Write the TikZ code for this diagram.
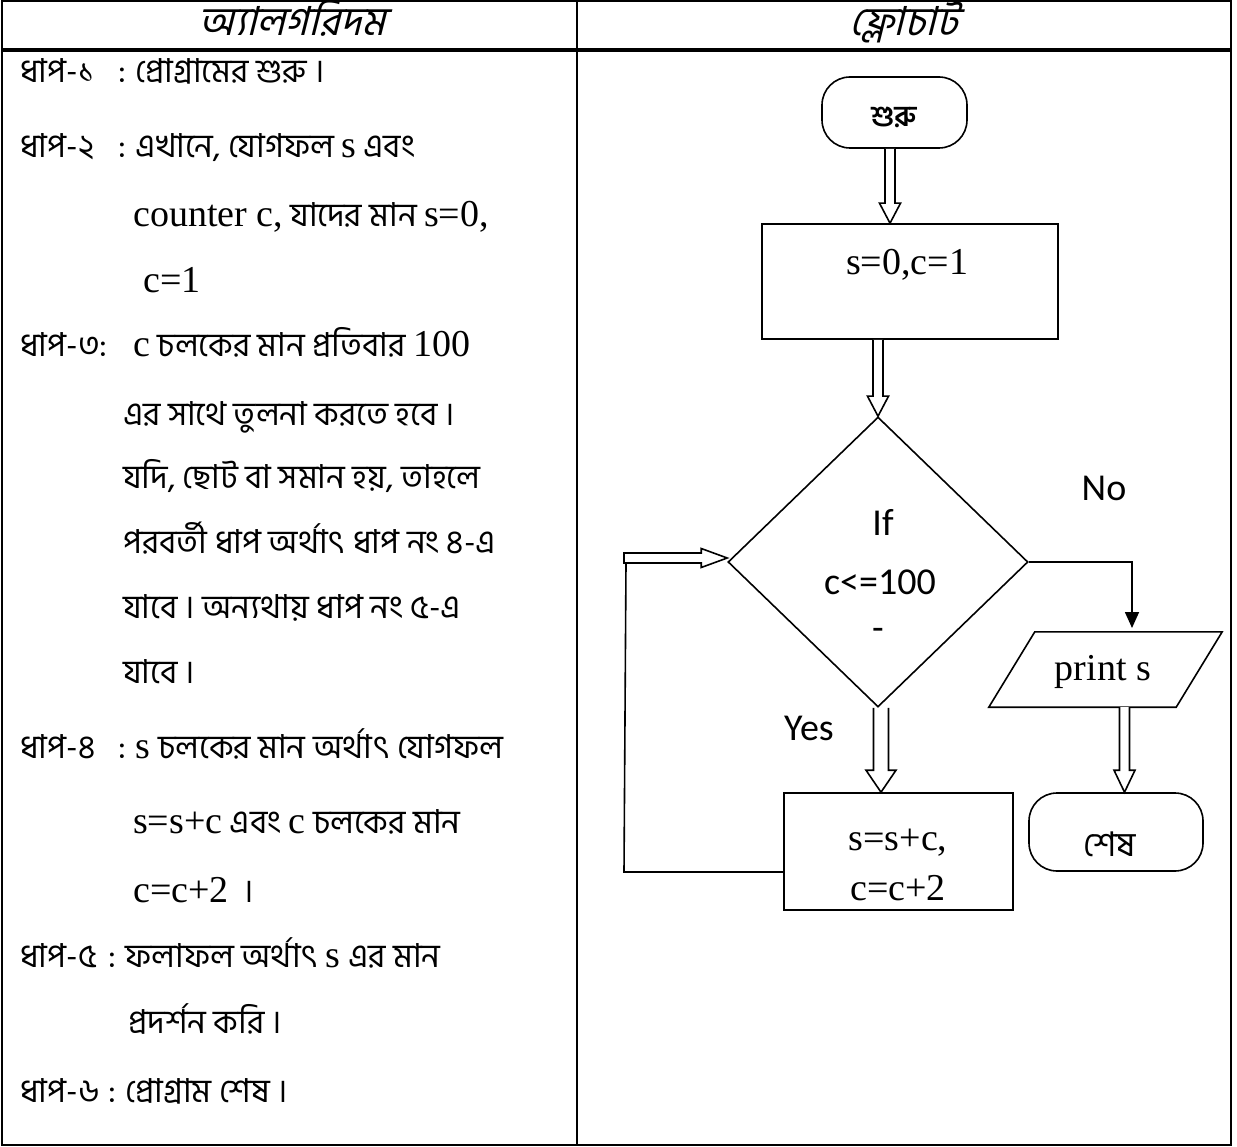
\documentclass[tikz,border=0pt]{standalone}
\usepackage{fontspec}
\setmainfont{Liberation Serif}
\newfontfamily\bn[Script=Bengali]{Hind Siliguri}
\newfontfamily\bnit[Script=Bengali,FakeSlant=0.25]{Hind Siliguri}
\newfontfamily\calf{Carlito}
\usetikzlibrary{shapes.geometric,arrows.meta,calc}
\newcommand\lt[1]{{\rmfamily\fontsize{38}{44}\selectfont #1}}
\newcommand\hollowdown[5]{\draw[flow, fill=white, line join=miter] let \p1=#1, \p2=#2 in
  (\x1-#3,\y1) -- (\x1-#3,\y2+#5) -- (\x1-#4,\y2+#5) -- (\x1,\y2) -- (\x1+#4,\y2+#5) -- (\x1+#3,\y2+#5) -- (\x1+#3,\y1);}
\newcommand\hollowright[5]{\draw[flow, fill=white, line join=miter] let \p1=#1, \p2=#2 in
  (\x1,\y1-#3) -- (\x2-#5,\y1-#3) -- (\x2-#5,\y1-#4) -- (\x2,\y1) -- (\x2-#5,\y1+#4) -- (\x2-#5,\y1+#3) -- (\x1,\y1+#3) -- cycle;}
\tikzset{
  flow/.style={line width=1.6pt},
  bntxt/.style={anchor=base west, inner sep=0pt, font=\bn\fontsize{33}{40}\selectfont},
  hdr/.style={anchor=base, inner sep=0pt, font=\bnit\fontsize{40}{46}\selectfont},
  sans/.style={anchor=base, inner sep=0pt, font=\calf\fontsize{38}{44}\selectfont},
  serif/.style={anchor=base, inner sep=0pt, font=\rmfamily\fontsize{38}{44}\selectfont},
  term/.style={draw, flow, rounded corners=28pt, inner sep=0pt},
  boxn/.style={draw, flow, inner sep=0pt},
}
\begin{document}
\begin{tikzpicture}[x=1pt,y=-1pt]
\useasboundingbox (0,0) rectangle (1237,1147);
% table
\draw[line width=2.2pt] (2,1) rectangle (1231,1145);
\draw[line width=2.2pt] (577,1) -- (577,1145);
\draw[line width=3.5pt] (2,50) -- (1231,50);
\node[hdr] (h1) at (292,36) {অ্যালগরিদম};
\node[hdr] (h2) at (904,36) {ফ্লোচার্ট};
% algorithm text
\node[bntxt] (l1a) at (20,83) {ধাপ-১};
\node[bntxt] (l1b) at (118,83) {: প্রোগ্রামের শুরু ।};
\node[bntxt] (l2a) at (20,158) {ধাপ-২};
\node[bntxt] (l2b) at (118,158) {: এখানে, যোগফল \lt{s} এবং};
\node[bntxt] (l3) at (133,227) {\lt{counter c,} যাদের মান \lt{s=0,}};
\node[bntxt] (l4) at (143,293) {\lt{c=1}};
\node[bntxt] (l5a) at (20,357) {ধাপ-৩:};
\node[bntxt] (l5b) at (133,357) {\lt{c} চলকের মান প্রতিবার \lt{100}};
\node[bntxt] (l6) at (123,425) {এর সাথে তুলনা করতে হবে ।};
\node[bntxt] (l7) at (123,488) {যদি, ছোট বা সমান হয়, তাহলে};
\node[bntxt] (l8) at (123,553) {পরবর্তী ধাপ অর্থাৎ ধাপ নং ৪-এ};
\node[bntxt] (l9) at (123,618) {যাবে । অন্যথায় ধাপ নং ৫-এ};
\node[bntxt] (l10) at (123,683) {যাবে ।};
\node[bntxt] (l11a) at (20,758) {ধাপ-৪};
\node[bntxt] (l11b) at (118,758) {: \lt{s} চলকের মান অর্থাৎ যোগফল};
\node[bntxt] (l12) at (133,833) {\lt{s=s+c} এবং \lt{c} চলকের মান};
\node[bntxt] (l13) at (133,902) {\lt{c=c+2} ~।};
\node[bntxt] (l14a) at (20,967) {ধাপ-৫};
\node[bntxt] (l14b) at (108,967) {: ফলাফল অর্থাৎ \lt{s} এর মান};
\node[bntxt] (l15) at (128,1033) {প্রদর্শন করি ।};
\node[bntxt] (l16a) at (20,1102) {ধাপ-৬};
\node[bntxt] (l16b) at (108,1102) {: প্রোগ্রাম শেষ ।};
% flowchart shapes
\node[term, minimum width=145pt, minimum height=71pt] (st) at (894.5,112.5) {};
\node[anchor=base, inner sep=0pt, font=\bn\bfseries\fontsize{29}{34}\selectfont] (stt) at (894,127) {শুরু};
\node[boxn, minimum width=296pt, minimum height=115pt] (b1) at (910,281.5) {};
\node[serif] (b1t) at (907,275) {s=0,c=1};
\node[draw, flow, diamond, inner sep=0pt, minimum width=300pt, minimum height=290pt] (dia) at (878,562) {};
\node[sans] (ift) at (883,535) {If};
\node[sans] (cond) at (880,594) {c<=100};
\node[sans] (mk) at (878,640) {-};
\node[sans] (no) at (1104,500) {No};
\node[sans] (yes) at (809,740) {Yes};
\node[inner sep=0pt, minimum width=187pt, minimum height=75pt] (par) at (1105.5,669.5) {};
\draw[flow] ([xshift=23pt]par.north west) -- ([xshift=23pt]par.north east) -- ([xshift=-23pt]par.south east) -- ([xshift=-23pt]par.south west) -- cycle;
\node[serif] (part) at (1103,680) {print s};
\node[boxn, minimum width=229pt, minimum height=117pt] (b2) at (898.5,851.5) {};
\node[serif] (b2a) at (898,850) {s=s+c,};
\node[serif] (b2b) at (898,900) {c=c+2};
\node[term, minimum width=174pt, minimum height=78pt] (en) at (1116,832) {};
\node[anchor=base, inner sep=0pt, font=\bn\fontsize{34}{40}\selectfont] (ent) at (1110,856) {শেষ};
% connectors
\hollowdown{([xshift=-4.5pt]st.south)}{(b1.north)}{5pt}{10.5pt}{20pt}
\hollowdown{(b1.south -| dia.north)}{(dia.north)}{5pt}{10.5pt}{20pt}
\hollowdown{([xshift=3pt]dia.south)}{(b2.north)}{7.5pt}{15pt}{22pt}
\hollowdown{([xshift=19pt]par.south)}{(en.north)}{5pt}{10.5pt}{22pt}
\coordinate (notip) at (1132,628);
\draw[flow, -{Triangle[length=16pt,width=14pt]}] (dia.east) -| (notip);
\coordinate (lb) at (624,872);
\coordinate (lt) at (626,563);
\coordinate (ls) at (624,558);
\draw[flow] (b2.west |- lb) -- (lb) -- (lt);
\hollowright{(ls)}{(dia.west)}{5pt}{9.5pt}{26pt}
\end{tikzpicture}
\end{document}
